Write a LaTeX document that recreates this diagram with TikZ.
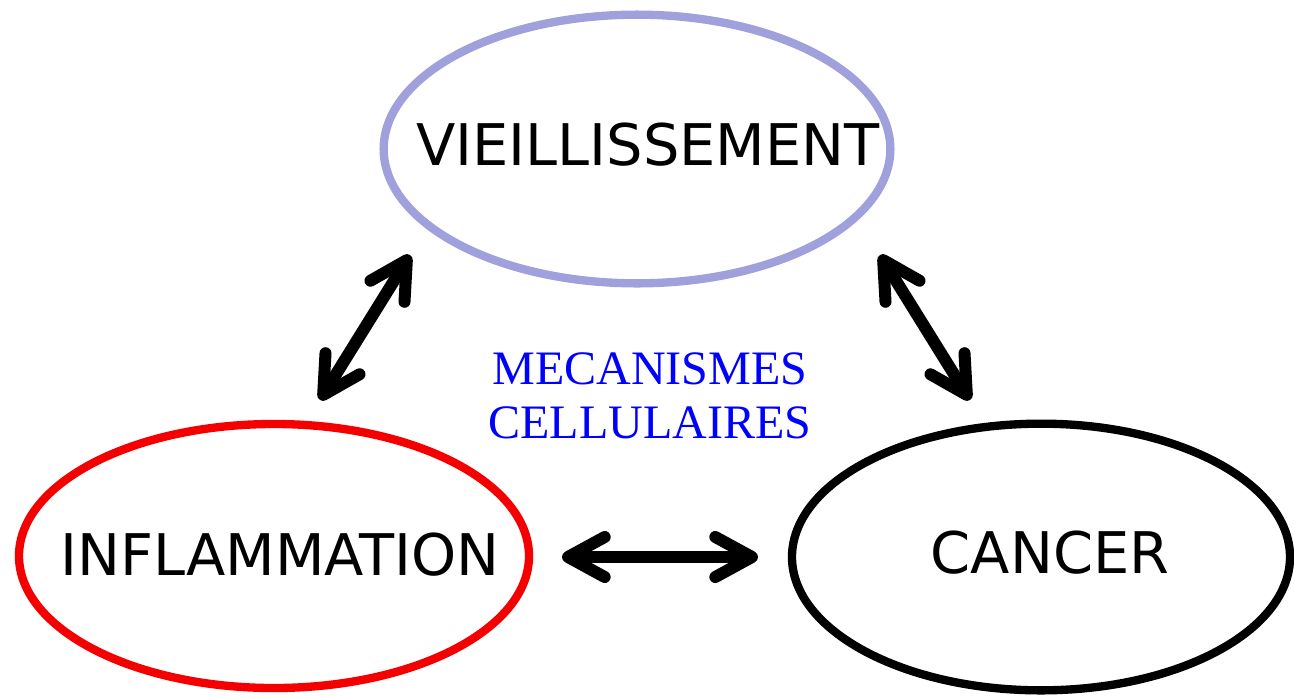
\documentclass[tikz,border=0pt]{standalone}
\usepackage{fontspec}
\setmainfont{Liberation Serif}
\newfontfamily\bubblefont{DejaVu Sans}
\usepackage{xcolor}
\usepackage{tikz}
\usetikzlibrary{shapes.geometric,arrows.meta}
\definecolor{agecol}{RGB}{160,160,220}
\definecolor{inflcol}{RGB}{245,0,0}
\definecolor{mechcol}{RGB}{0,0,255}

\begin{document}
\begin{tikzpicture}[x=0.03cm,y=-0.03cm,
    bubble/.style={ellipse,draw,line width=0.25cm,inner sep=0pt},
    bubbletext/.style={font=\bubblefont\fontsize{49}{52}\selectfont},
    link/.style={line width=0.36cm,
      {Straight Barb[round,length=1.1cm,width=1.2cm]}-{Straight Barb[round,length=1.1cm,width=1.2cm]}}]
      \useasboundingbox (0,0) rectangle (1294,697);
      % the three bubbles
      \node[bubble,agecol,minimum width=15.2cm,minimum height=8.06cm] (vieil) at (637,149) {};
      \node[bubble,inflcol,minimum width=15.3cm,minimum height=7.92cm] (infl) at (274,556) {};
      \node[bubble,black,minimum width=14.94cm,minimum height=8.0cm] (cancer) at (1041,557) {};
      \node[bubbletext] (vieiltxt) at (648,145) {VIEILLISSEMENT};
      \node[bubbletext] (infltxt) at (280,555) {INFLAMMATION};
      \node[bubbletext] (cancertxt) at (1050,553) {CANCER};
      % centre text
      \node[mechcol,align=center,font=\fontsize{41}{46}\selectfont] (meca) at (650,396) {MECANISMES\\CELLULAIRES};
      % arrow ends
      \coordinate (a1) at (320,400);
      \coordinate (a2) at (410,255);
      \coordinate (b1) at (880,255);
      \coordinate (b2) at (970,400);
      \coordinate (c1) at (562,557);
      \coordinate (c2) at (758,557);
      \draw[link] (a1) -- (a2);
      \draw[link] (b1) -- (b2);
      \draw[link] (c1) -- (c2);
\end{tikzpicture}
\end{document}
